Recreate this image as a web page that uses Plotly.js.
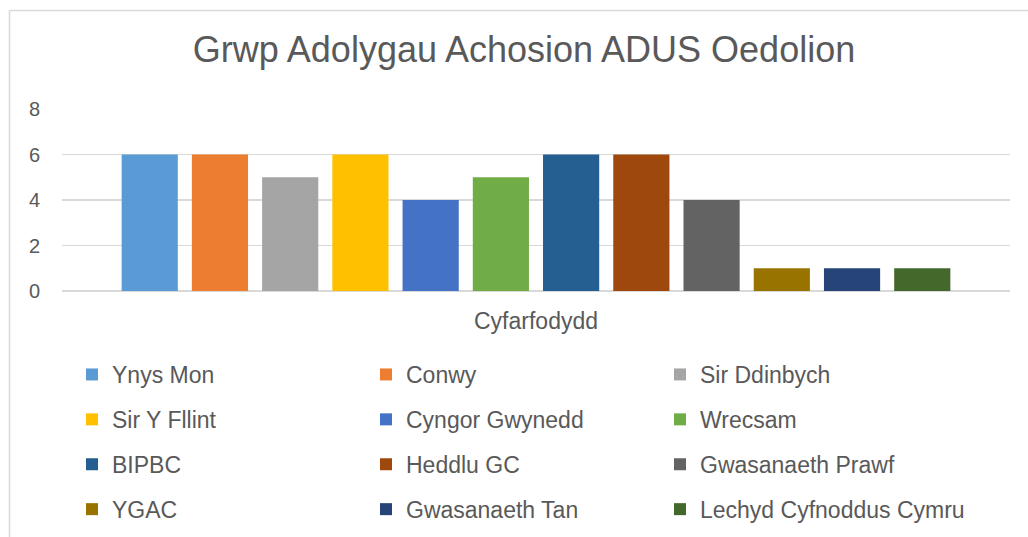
<!DOCTYPE html>
<html>
<head>
<meta charset="utf-8">
<script src="https://cdn.plot.ly/plotly-3.0.1.min.js"></script>
<style>
html,body{margin:0;padding:0;background:#fff;}
#chart{width:1028px;height:537px;}
</style>
</head>
<body>
<div id="chart"></div>
<script>
var categories = ['Cyfarfodydd'];
var seriesNames = ['Ynys Mon','Conwy','Sir Ddinbych','Sir Y Fllint','Cyngor Gwynedd','Wrecsam','BIPBC','Heddlu GC','Gwasanaeth Prawf','YGAC','Gwasanaeth Tan','Lechyd Cyfnoddus Cymru'];
var seriesValues = [6,6,5,6,4,5,6,6,4,1,1,1];
var seriesColors = ['#5B9BD5','#ED7D31','#A5A5A5','#FFC000','#4472C4','#70AD47','#255E91','#9E480E','#636363','#997300','#264478','#43682B'];
var yTicks = [0,2,4,6,8];

var FONT = 'Liberation Sans, Arial, sans-serif';
var TXT = '#595959';
var legendNames = ['legend','legend2','legend3'];
var colX = [72, 366, 660];

var traces = seriesNames.map(function(name, i){
  return {
    type:'bar', name:name, x:categories, y:[seriesValues[i]],
    marker:{color:seriesColors[i]},
    legend: legendNames[i % 3],
    legendgroup:'g'+i,
    hoverinfo:'name+y'
  };
});

var layout = {
  width:1028, height:537,
  paper_bgcolor:'#fff', plot_bgcolor:'#fff',
  margin:{l:62, r:18, t:109, b:246, pad:0},
  font:{family:FONT, color:TXT, size:20},
  title:{text:'Grwp Adolygau Achosion ADUS Oedolion', font:{family:FONT, size:36, color:TXT},
         x:524/1028, xref:'container', xanchor:'center', y:1-49/537, yref:'container', yanchor:'middle'},
  barmode:'group', bargap:0.111, bargroupgap:0.2,
  xaxis:{type:'category', showgrid:false, zeroline:false, showline:false, ticks:'',
         tickfont:{size:23, color:TXT, family:FONT}, ticklabelstandoff:14},
  yaxis:{range:[0,8], tickvals:yTicks, ticktext:yTicks.map(String), showgrid:true, gridcolor:'#d9d9d9', gridwidth:1.5,
         zeroline:true, zerolinecolor:'#d9d9d9', zerolinewidth:1.5, showline:false, ticks:'',
         tickfont:{size:20, color:TXT, family:FONT}, ticklabelstandoff:21},
  shapes:[
    {type:'line', xref:'paper', yref:'paper', x0:(9.5-62)/948, x1:(9.5-62)/948, y0:(291-10.5)/182, y1:-2, line:{color:'#d9d9d9', width:1.5}},
    {type:'line', xref:'paper', yref:'paper', x0:(9.5-62)/948, x1:1.2, y0:(291-10.5)/182, y1:(291-10.5)/182, line:{color:'#d9d9d9', width:1.5}}
  ],
  showlegend:true
};
legendNames.forEach(function(ln, c){
  layout[ln] = {
    orientation:'v', xref:'paper', yref:'container',
    x:(colX[c]-62)/948, xanchor:'left', y:1-353/537, yanchor:'top',
    tracegroupgap:12,
    font:{family:FONT, size:23, color:TXT}, bgcolor:'rgba(0,0,0,0)', borderwidth:0,
    traceorder:'grouped'
  };
});

Plotly.newPlot('chart', traces, layout, {displayModeBar:false, staticPlot:true});
</script>
</body>
</html>
